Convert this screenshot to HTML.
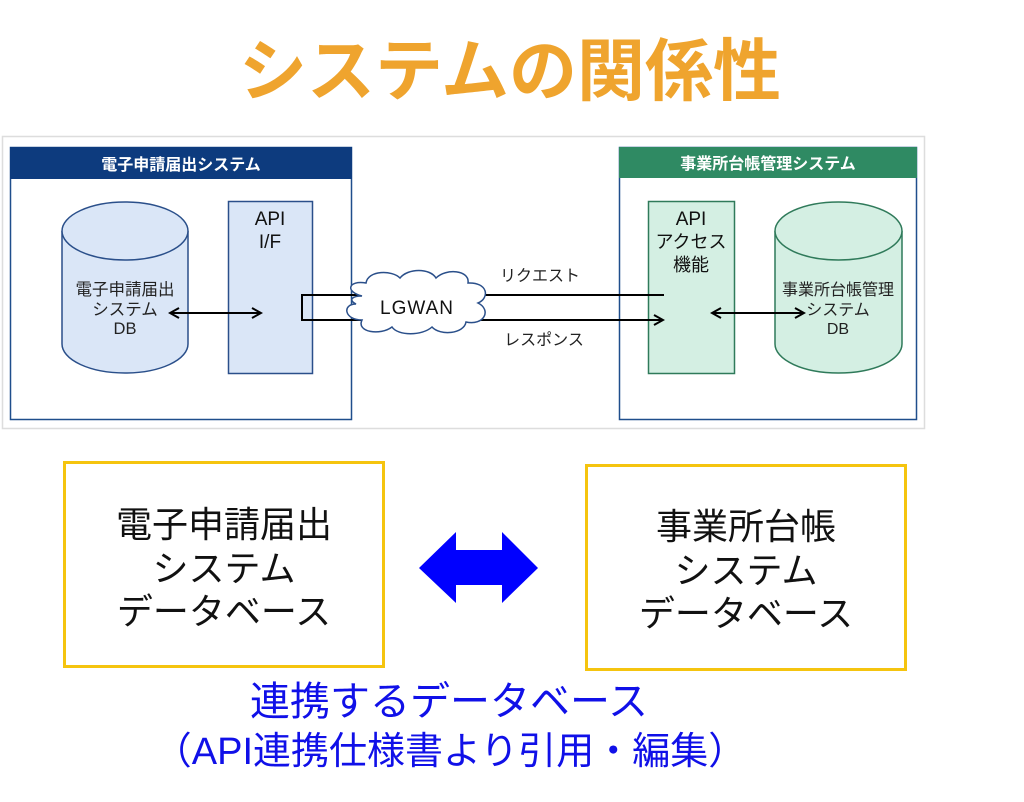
<!DOCTYPE html>
<html><head><meta charset="utf-8"><style>
body{margin:0;background:#fff;width:1024px;height:802px;overflow:hidden}
svg{display:block}
text{font-family:"Liberation Sans","Noto Sans CJK JP",sans-serif}
</style></head><body>
<svg width="1024" height="802" viewBox="0 0 1024 802" xmlns="http://www.w3.org/2000/svg">
<defs>
<marker id="ah" markerWidth="12" markerHeight="12" refX="10" refY="6" orient="auto-start-reverse" markerUnits="userSpaceOnUse">
<path d="M1,1 L10,6 L1,11" fill="none" stroke="#000" stroke-width="2"/></marker>
</defs>
<text x="510" y="95" text-anchor="middle" font-size="68" font-weight="bold" fill="#efa42e">システムの関係性</text>
<rect x="2.5" y="136.5" width="922" height="292" fill="#fff" stroke="#ddd" stroke-width="1.5"/>
<!-- left system -->
<rect x="10.5" y="147.5" width="341" height="272" fill="#fff" stroke="#1f4e8c" stroke-width="1.5"/>
<rect x="10" y="147" width="342" height="32" fill="#0d3b7e"/>
<text x="181" y="170" text-anchor="middle" font-size="16" font-weight="bold" fill="#fff">電子申請届出システム</text>
<path d="M62,231 L62,344 A63,29 0 0 0 188,344 L188,231" fill="#dae6f7" stroke="#2a4f8a" stroke-width="1.5"/>
<ellipse cx="125" cy="231" rx="63" ry="29" fill="#dae6f7" stroke="#2a4f8a" stroke-width="1.5"/>
<text x="125" y="295" text-anchor="middle" font-size="16.5" fill="#222">電子申請届出</text>
<text x="125" y="315" text-anchor="middle" font-size="16.5" fill="#222">システム</text>
<text x="125" y="334" text-anchor="middle" font-size="16.5" fill="#222">DB</text>
<rect x="228.5" y="201.5" width="84" height="172" fill="#dae6f7" stroke="#2a4f8a" stroke-width="1.5"/>
<text x="270" y="225" text-anchor="middle" font-size="19" fill="#111">API</text>
<text x="270" y="248" text-anchor="middle" font-size="19" fill="#111">I/F</text>
<line x1="170" y1="313" x2="261" y2="313" stroke="#000" stroke-width="2" marker-start="url(#ah)" marker-end="url(#ah)"/>
<!-- right system -->
<rect x="619.5" y="147.5" width="297" height="272" fill="#fff" stroke="#1f4e8c" stroke-width="1.5"/>
<rect x="619" y="147" width="298" height="31" fill="#2f8a63"/>
<text x="768" y="169" text-anchor="middle" font-size="16" font-weight="bold" fill="#fff">事業所台帳管理システム</text>
<rect x="648.5" y="201.5" width="86" height="172" fill="#d4efe3" stroke="#2f7a5a" stroke-width="1.5"/>
<text x="691" y="225" text-anchor="middle" font-size="19" fill="#111">API</text>
<text x="691" y="248" text-anchor="middle" font-size="18" fill="#111">アクセス</text>
<text x="691" y="271" text-anchor="middle" font-size="18" fill="#111">機能</text>
<path d="M775,231 L775,344 A63.5,29 0 0 0 902,344 L902,231" fill="#d4efe3" stroke="#2f7a5a" stroke-width="1.5"/>
<ellipse cx="838.5" cy="231" rx="63.5" ry="29" fill="#d4efe3" stroke="#2f7a5a" stroke-width="1.5"/>
<text x="838" y="295" text-anchor="middle" font-size="16" fill="#222">事業所台帳管理</text>
<text x="838" y="315" text-anchor="middle" font-size="16" fill="#222">システム</text>
<text x="838" y="334" text-anchor="middle" font-size="16" fill="#222">DB</text>
<line x1="712" y1="313" x2="804" y2="313" stroke="#000" stroke-width="2" marker-start="url(#ah)" marker-end="url(#ah)"/>
<!-- connectors -->
<path d="M664,295 L302,295 L302,320 L663,320" fill="none" stroke="#000" stroke-width="2" marker-end="url(#ah)"/>
<text x="540" y="281" text-anchor="middle" font-size="16" fill="#222">リクエスト</text>
<text x="544" y="345" text-anchor="middle" font-size="16" fill="#222">レスポンス</text>
<path d="M362,296 C345,292 348,280 366,283 C368,270 392,270 400,278 C408,268 430,268 436,278 C446,268 470,270 468,283 C488,282 490,298 478,303 C492,310 484,326 466,322 C464,334 440,336 432,327 C422,336 398,336 392,327 C380,336 356,332 362,320 C344,320 342,304 356,304 C348,300 352,296 362,296 Z" fill="#fff" stroke="#2a4f8a" stroke-width="1.5"/>
<text x="417" y="314" text-anchor="middle" font-size="19" fill="#111" letter-spacing="1">LGWAN</text>
<!-- bottom -->
<rect x="64.5" y="462.5" width="319" height="204" fill="#fff" stroke="#f5c40f" stroke-width="3"/>
<text x="224" y="537" text-anchor="middle" font-size="36" fill="#111">電子申請届出</text>
<text x="224" y="581" text-anchor="middle" font-size="36" fill="#111">システム</text>
<text x="224" y="624" text-anchor="middle" font-size="36" fill="#111">データベース</text>
<rect x="586.5" y="465.5" width="319" height="204" fill="#fff" stroke="#f5c40f" stroke-width="3"/>
<text x="746" y="539" text-anchor="middle" font-size="36" fill="#111">事業所台帳</text>
<text x="746" y="583" text-anchor="middle" font-size="36" fill="#111">システム</text>
<text x="746" y="626" text-anchor="middle" font-size="36" fill="#111">データベース</text>
<path d="M419,568 L456,532 L456,550 L502,550 L502,532 L538,568 L502,603 L502,585 L456,585 L456,603 Z" fill="#0000ff"/>
<text x="449" y="715" text-anchor="middle" font-size="40" fill="#1010e8">連携するデータベース</text>
<text x="450" y="764" text-anchor="middle" font-size="38" fill="#1010e8">（API連携仕様書より引用・編集）</text>
</svg>
</body></html>
